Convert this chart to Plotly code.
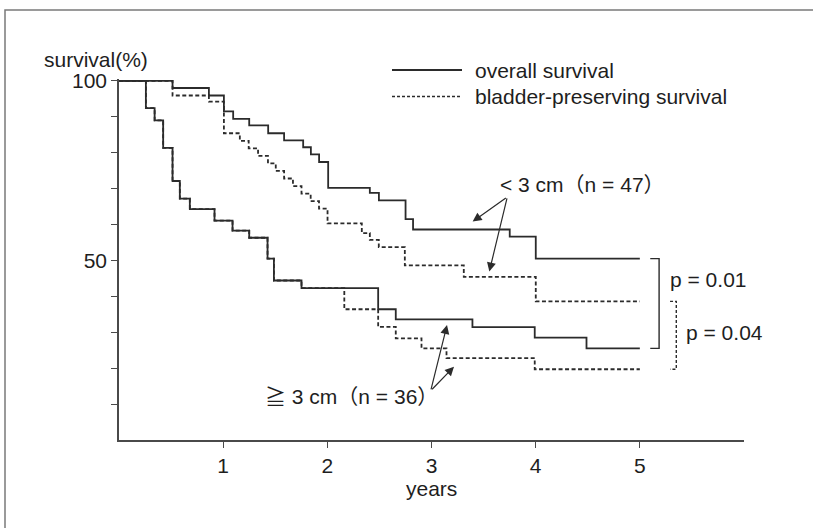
import plotly.graph_objects as go

# ---------------- data ----------------
# < 3 cm (n = 47), overall survival
t_os_small = [0, 0.514, 0.863, 1.007, 1.096, 1.250, 1.432, 1.585, 1.768, 1.842, 1.921,
              2.008, 2.408, 2.495, 2.751, 2.823, 3.751, 4.001, 5.0]
s_os_small = [100, 98.0, 95.9, 91.5, 89.4, 87.6, 85.4, 83.4, 81.5, 79.5, 77.4,
              70.2, 68.8, 66.7, 61.5, 58.6, 56.6, 50.5, 50.5]

# < 3 cm (n = 47), bladder-preserving survival
t_bp_small = [0, 0.514, 0.863, 1.007, 1.160, 1.245, 1.335, 1.430, 1.505, 1.585, 1.670,
              1.752, 1.840, 1.920, 2.002, 2.331, 2.408, 2.494, 2.744, 3.310, 4.001, 5.0]
s_bp_small = [100, 95.9, 94.2, 85.4, 83.3, 81.2, 79.1, 77.0, 74.9, 72.8, 70.7,
              68.6, 66.5, 64.4, 60.3, 57.6, 55.7, 53.7, 48.6, 45.4, 38.6, 38.6]

# >= 3 cm (n = 36), overall survival
t_os_large = [0, 0.258, 0.342, 0.424, 0.514, 0.584, 0.680, 0.917, 1.090, 1.250, 1.426,
              1.487, 1.752, 2.488, 2.657, 3.393, 3.991, 4.488, 5.0]
s_os_large = [100, 92.4, 89.0, 81.3, 72.1, 67.2, 64.3, 61.1, 58.3, 56.3, 50.5,
              44.4, 42.3, 36.4, 33.6, 31.4, 28.5, 25.5, 25.5]

# >= 3 cm (n = 36), bladder-preserving survival
t_bp_large = [0, 0.258, 0.342, 0.424, 0.514, 0.584, 0.680, 0.917, 1.090, 1.250, 1.426,
              1.487, 1.752, 2.163, 2.488, 2.657, 2.904, 3.144, 3.991, 5.0]
s_bp_large = [100, 92.4, 89.0, 81.3, 72.1, 67.2, 64.3, 61.1, 58.3, 56.3, 50.5,
              44.4, 42.3, 36.4, 31.5, 28.3, 25.5, 22.8, 19.7, 19.7]

x_ticks = [1, 2, 3, 4, 5]
y_ticks = [10, 20, 30, 40, 50, 60, 70, 80, 90, 100]
y_ticktext = ["", "", "", "", "50", "", "", "", "", "100"]

legend_labels = ["overall survival", "bladder-preserving survival"]
group_labels = ["< 3 cm（n = 47）", "≧ 3 cm（n = 36）"]
p_labels = ["p = 0.01", "p = 0.04"]

# ---------------- styling / layout ----------------
W, H = 813, 528
L, R, T, B = 119, 69, 79, 88
PW, PH = W - L - R, H - T - B
FONT = "Liberation Sans, Arial, Helvetica, Noto Sans CJK JP, sans-serif"
TXT = "#1e1e1e"
LINE = "#2b2b2b"
AX = "#4a4a4a"
DASH = "4px,2.5px"
FS = 21


def px_x(px):
    return (px - L) / PW


def px_y(py):
    return (H - B - py) / PH


fig = go.Figure()

curves = [
    (t_os_small, s_os_small, "solid", "overall survival, < 3 cm"),
    (t_bp_small, s_bp_small, DASH, "bladder-preserving survival, < 3 cm"),
    (t_bp_large, s_bp_large, DASH, "bladder-preserving survival, ≧ 3 cm"),
    (t_os_large, s_os_large, "solid", "overall survival, ≧ 3 cm"),
]
for tx, sy, dash, name in curves:
    fig.add_trace(go.Scatter(
        x=tx, y=sy, mode="lines", line_shape="hv", name=name,
        line=dict(color=LINE, width=1.8, dash=dash), showlegend=False,
        hoverinfo="x+y+name",
    ))

# brackets for p-values, spanning the end values of the curves
fig.add_trace(go.Scatter(
    x=[5.10, 5.185, 5.185, 5.10],
    y=[s_os_small[-1], s_os_small[-1], s_os_large[-1], s_os_large[-1]],
    mode="lines", line=dict(color=LINE, width=1.4), showlegend=False, hoverinfo="skip"))
fig.add_trace(go.Scatter(
    x=[5.29, 5.35, 5.35, 5.29],
    y=[s_bp_small[-1], s_bp_small[-1], s_bp_large[-1], s_bp_large[-1]],
    mode="lines", line=dict(color=LINE, width=1.4, dash="3px,2px"), showlegend=False,
    hoverinfo="skip"))

annotations = []


def text(x, y, s, xref="x", yref="y", xanchor="left", yanchor="middle", size=FS):
    annotations.append(dict(x=x, y=y, xref=xref, yref=yref, text=s, showarrow=False,
                            xanchor=xanchor, yanchor=yanchor,
                            font=dict(family=FONT, size=size, color=TXT)))


def arrow(tip, tail):
    annotations.append(dict(x=tip[0], y=tip[1], ax=tail[0], ay=tail[1],
                            xref="x", yref="y", axref="x", ayref="y", text="",
                            showarrow=True, arrowhead=2, arrowsize=1.5, arrowwidth=1.2,
                            arrowcolor=LINE, standoff=0, startstandoff=0))


# axis-title like texts
text(px_x(42), px_y(59), "survival(%)", xref="paper", yref="paper")
text(3.0, px_y(488), "years", yref="paper", xanchor="center")

# legend
legend_y = [px_y(70), px_y(96.5)]
text(px_x(473), legend_y[0], legend_labels[0], xref="paper", yref="paper")
text(px_x(473), legend_y[1], legend_labels[1], xref="paper", yref="paper")

# group labels
text(3.641, 71.1, group_labels[0])
text(1.385, 12.2, group_labels[1])

# p values
text(5.272, 44.8, p_labels[0])
text(5.423, 30.0, p_labels[1])

# arrows
arrow((3.395, 60.8), (3.728, 67.7))
arrow((3.555, 46.9), (3.728, 67.7))
arrow((3.149, 32.0), (2.992, 13.7))
arrow((3.216, 20.4), (2.992, 13.7))

shapes = [
    # outer frame
    dict(type="rect", xref="paper", yref="paper",
         x0=px_x(5), x1=px_x(840), y0=px_y(560), y1=px_y(10),
         line=dict(color="#7a7a7a", width=1.5), fillcolor="rgba(0,0,0,0)", layer="below"),
    # legend samples
    dict(type="line", xref="paper", yref="paper", x0=px_x(392), x1=px_x(462),
         y0=legend_y[0], y1=legend_y[0], line=dict(color=LINE, width=1.8)),
    dict(type="line", xref="paper", yref="paper", x0=px_x(392), x1=px_x(462),
         y0=legend_y[1], y1=legend_y[1], line=dict(color=LINE, width=1.6, dash="3px,2px")),
]

fig.update_layout(
    width=W, height=H,
    margin=dict(l=L, r=R, t=T, b=B, pad=0),
    paper_bgcolor="white", plot_bgcolor="white",
    font=dict(family=FONT, size=FS, color=TXT),
    annotations=annotations, shapes=shapes,
    xaxis=dict(range=[0, 6], tickvals=x_ticks, ticktext=[str(v) for v in x_ticks],
               ticks="outside", ticklen=6, tickwidth=1.2, tickcolor=AX,
               showline=True, linecolor=AX, linewidth=1.5, showgrid=False, zeroline=False,
               tickfont=dict(family=FONT, size=FS, color=TXT)),
    yaxis=dict(range=[0, 100.5], tickvals=y_ticks, ticktext=y_ticktext,
               ticks="outside", ticklen=6, tickwidth=1.2, tickcolor=AX,
               showline=True, linecolor=AX, linewidth=1.5, showgrid=False, zeroline=False,
               tickfont=dict(family=FONT, size=FS, color=TXT)),
)

fig.write_html("out.html", config={"displayModeBar": False},
               post_script="document.body.style.margin='0';document.body.style.overflow='hidden';")
